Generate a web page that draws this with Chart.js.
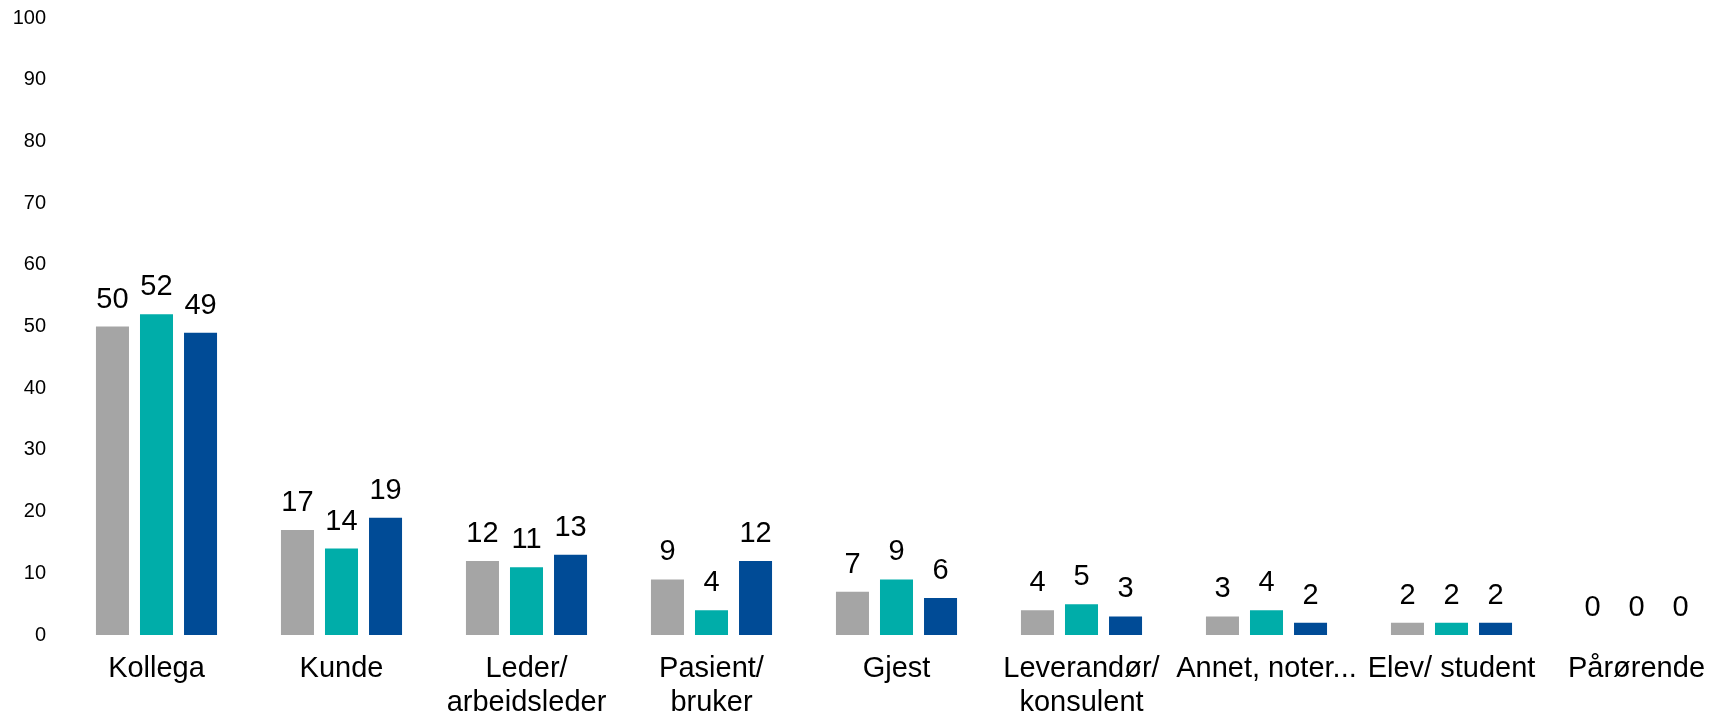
<!DOCTYPE html>
<html>
<head>
<meta charset="utf-8">
<script src="https://cdn.jsdelivr.net/npm/chart.js@4/dist/chart.umd.min.js"></script>
<style>
  html, body { margin: 0; padding: 0; background: #fff; overflow: hidden; }
  #wrap { width: 1711px; height: 715px; overflow: hidden; }
</style>
</head>
<body>
<div id="wrap"><canvas id="bars" width="1729" height="720"></canvas></div>
<script>
const categories = [
  "Kollega",
  "Kunde",
  ["Leder/", "arbeidsleder"],
  ["Pasient/", "bruker"],
  "Gjest",
  ["Leverandør/", "konsulent"],
  "Annet, noter...",
  "Elev/ student",
  "Pårørende",
];
const seriesNames = ["Serie 1", "Serie 2", "Serie 3"];
const greyValues = [50, 17, 12, 9, 7, 4, 3, 2, 0];
const tealValues = [52, 14, 11, 4, 9, 5, 4, 2, 0];
const blueValues = [49, 19, 13, 12, 6, 3, 2, 2, 0];
const yTicks = [0, 10, 20, 30, 40, 50, 60, 70, 80, 90, 100];

const FONT = "'Liberation Sans', Arial, sans-serif";

// labels over each bar, placed from the bar elements
const valueLabels = {
  id: "valueLabels",
  afterDatasetsDraw(chart) {
    const ctx = chart.ctx;
    ctx.save();
    ctx.font = `29px ${FONT}`;
    ctx.fillStyle = "#000";
    ctx.textAlign = "center";
    ctx.textBaseline = "alphabetic";
    chart.data.datasets.forEach((ds, i) => {
      chart.getDatasetMeta(i).data.forEach((bar, j) => {
        ctx.fillText(String(ds.data[j]), bar.x, bar.y - 19);
      });
    });
    ctx.restore();
  },
};

new Chart(document.getElementById("bars"), {
  type: "bar",
  data: {
    labels: categories,
    datasets: [
      { label: seriesNames[0], data: greyValues, backgroundColor: "rgb(165, 165, 165)" },
      { label: seriesNames[1], data: tealValues, backgroundColor: "rgb(0, 173, 169)" },
      { label: seriesNames[2], data: blueValues, backgroundColor: "rgb(0, 75, 150)" },
    ],
  },
  options: {
    responsive: false,
    animation: false,
    categoryPercentage: 0.714,
    barPercentage: 0.75,
    layout: {
      padding: { top: 18, left: 13, right: 0, bottom: 0 },
    },
    scales: {
      y: {
        min: 0,
        max: 100,
        afterBuildTicks: (axis) => {
          axis.ticks = yTicks.map((v) => ({ value: v }));
        },
        afterFit: (axis) => {
          axis.width = 51;
          axis.paddingTop = 0;
          axis.paddingBottom = 0;
        },
        ticks: {
          color: "#000",
          padding: 18,
          font: { family: FONT, size: 20 },
        },
        grid: { display: false, drawTicks: false },
        border: { display: false },
      },
      x: {
        afterFit: (axis) => {
          axis.height = 85;
        },
        ticks: {
          color: "#000",
          padding: 17,
          maxRotation: 0,
          autoSkip: false,
          font: { family: FONT, size: 29, lineHeight: "34px" },
        },
        grid: { display: false, drawTicks: false },
        border: { display: false },
      },
    },
    plugins: {
      legend: { display: false },
      tooltip: { enabled: false },
    },
  },
  plugins: [valueLabels],
});
</script>
</body>
</html>
